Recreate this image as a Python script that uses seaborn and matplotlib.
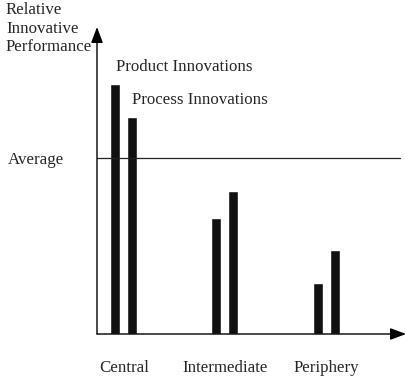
import pandas as pd
import seaborn as sns
import matplotlib.pyplot as plt

# relative innovative performance (average = 100)
regions = ['Central', 'Intermediate', 'Periphery']
product = [142, 66, 29]
process = [123, 81, 48]
average = 100

df = pd.DataFrame({'region': regions * 2,
                   'type': ['Product Innovations'] * 3 + ['Process Innovations'] * 3,
                   'value': product + process})

sns.set_style('white')
plt.rcParams['font.family'] = ['Liberation Serif', 'DejaVu Serif']
fs = 12.2

fig = plt.figure(figsize=(4.06, 3.78), dpi=100)
ax = fig.add_axes([97 / 406, 44 / 378, 309 / 406, 307 / 378])

sns.barplot(data=df, x='region', y='value', hue='type',
            palette={'Product Innovations': '#111111', 'Process Innovations': '#111111'},
            saturation=1, width=0.336, gap=0.41, legend=False, ax=ax)

ax.set_xlim(-0.264, 2.788)
ax.set_ylim(0, 174.4)
for s in ax.spines.values():
    s.set_visible(False)

# axes drawn as arrows
arrow = dict(arrowstyle='-|>,head_length=0.8,head_width=0.3', color='black',
             lw=1, shrinkA=0, shrinkB=0, mutation_scale=12)
ax.annotate('', xy=(0, 1), xytext=(0, 0), xycoords='axes fraction', arrowprops=arrow)
ax.annotate('', xy=(1, 0), xytext=(0, 0), xycoords='axes fraction', arrowprops=arrow)

ax.axhline(average, xmin=0, xmax=303 / 309, color='#222222', lw=0.9)

ax.set_yticks([average])
ax.set_yticklabels(['Average'], fontsize=fs)
ax.tick_params(axis='y', length=0, pad=24)
ax.tick_params(axis='x', length=0, pad=18.5, labelsize=fs)
ax.set_xlabel('')
ax.set_ylabel('')

ax.text(-0.077, 151.7, 'Product Innovations', fontsize=fs, ha='left', va='center')
ax.text(0.081, 133, 'Process Innovations', fontsize=fs, ha='left', va='center')

fig.text(6 / 406, 1 - 2 / 378, 'Relative\nInnovative\nPerformance',
         fontsize=fs, ha='left', va='top', linespacing=1.22)

fig.savefig('out.png', dpi=100)
